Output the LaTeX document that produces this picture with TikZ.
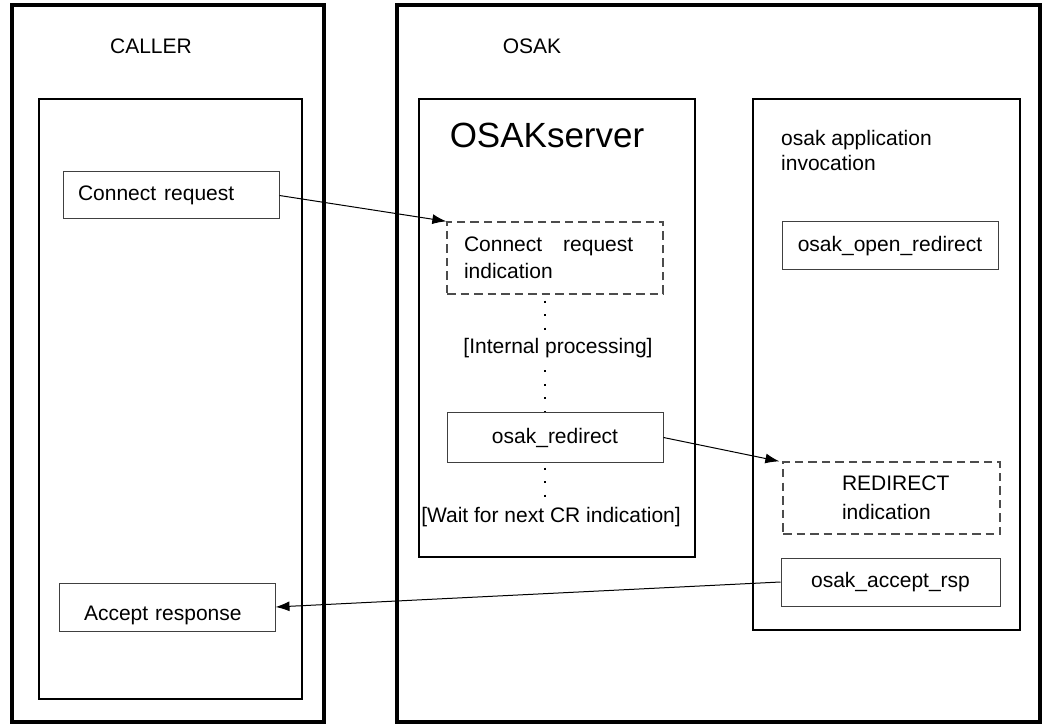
\documentclass[tikz,border=0pt]{standalone}
\usepackage{fontspec}
\setmainfont{Liberation Sans}
\usetikzlibrary{arrows.meta}

\begin{document}
\begin{tikzpicture}[x=1pt,y=-1pt,
	every node/.style={font=\fontsize{21}{27}\selectfont},
	outerbox/.style={draw,line width=4.5pt},
	innerbox/.style={draw,line width=2pt},
	stepbox/.style={draw=black!75,line width=1pt,align=left},
	waitbox/.style={draw=black!70,line width=1.3pt,dash pattern=on 8.5pt off 5pt,align=left},
	dotline/.style={line width=2pt,dash pattern=on 2pt off 11.5pt},
	msg/.style={-{Latex[length=14pt,width=10pt]},line width=1pt}]
	\useasboundingbox (0,0) rectangle (1045,727);
	% caller side
	\node[outerbox,minimum width=312pt,minimum height=717pt] (caller) at (168,363.5) {};
	\node[innerbox,minimum width=263pt,minimum height=600pt] (callin) at (170.5,399) {};
	\node (callerlbl) at (151,46) {CALLER};
	\node[stepbox,text width=186pt,inner xsep=15pt,minimum height=47pt] (creq) at (171,195.5) {Connect\hspace{8pt}request};
	\node[stepbox,text width=166pt,inner xsep=25pt,text height=32pt,text depth=5pt,inner ysep=0pt,minimum height=48pt] (accresp) at (167,607) {Accept response};
	% osak side
	\node[outerbox,minimum width=643pt,minimum height=717pt] (osak) at (718.5,363.5) {};
	\node (osaklbl) at (532,46) {OSAK};
	\node[innerbox,minimum width=276pt,minimum height=458pt] (server) at (557,328) {};
	\node[font=\fontsize{35}{40}\selectfont] (serverlbl) at (547,135) {OSAKserver};
	\node[waitbox,text width=182pt,inner xsep=17pt,minimum height=72pt] (crind) at (555,258) {Connect\hspace{21pt}request\\indication};
	\node (intproc) at (558,348) {[Internal processing]};
	\node[stepbox,align=center,minimum width=216pt,minimum height=49pt] (redir) at (555,437.5) {osak\_redirect};
	\node (waitcr) at (551,517) {[Wait for next CR indication]};
	\coordinate (dotx) at (545,0);
	\draw[dotline] (crind.south -| dotx) ++(0,6) -- (intproc.north -| dotx);
	\draw[dotline] (intproc.south -| dotx) ++(0,9) -- (redir.north -| dotx);
	\draw[dotline] (redir.south -| dotx) ++(0,5) -- (waitcr.north -| dotx);
	% application
	\node[innerbox,minimum width=267pt,minimum height=531pt] (app) at (886.5,364.5) {};
	\node[align=left,anchor=west,inner sep=0pt,font=\fontsize{21}{25}\selectfont] (applbl) at (781,150.5) {osak application\\invocation};
	\node[stepbox,align=center,minimum width=216pt,minimum height=48pt] (openredir) at (890,246) {osak\_open\_redirect};
	\node[waitbox,text width=99pt,inner xsep=59pt,minimum height=72pt,font=\fontsize{21}{29}\selectfont] (redind) at (891.5,498) {REDIRECT\\indication};
	\node[stepbox,align=center,minimum width=219pt,minimum height=48pt] (acc) at (890.5,582) {osak\_accept\_rsp};
	% messages
	\draw[msg] (creq.east) -- (crind.north west);
	\draw[msg] (redir.east) -- ([xshift=-3pt]redind.north west);
	\draw[msg] (acc.west) -- (accresp.east);
\end{tikzpicture}
\end{document}
